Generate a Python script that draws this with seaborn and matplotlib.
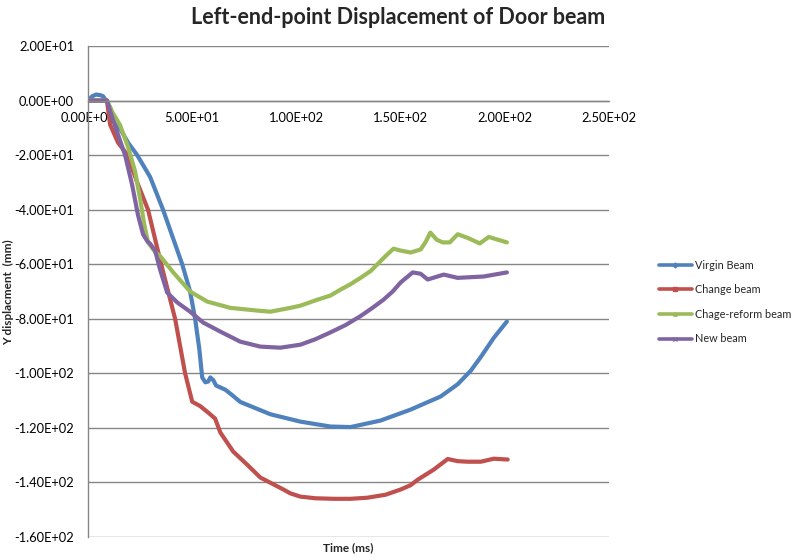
import numpy as np
import pandas as pd
import matplotlib
matplotlib.use("Agg")
import matplotlib.pyplot as plt
import seaborn as sns
from matplotlib.lines import Line2D

# ---- data ----
virgin_t = [0, 1.9, 3.8, 5.8, 7.2, 8.7, 10.6, 13.0, 15.9, 19.2, 23.6, 29.8, 36.0, 45.2, 49.0,
            51.4, 53.4, 54.8, 56.3, 57.7, 58.7, 60.1, 61.5, 65.9, 69.2, 73.1, 77.9, 87.5,
            101.9, 116.3, 126.0, 140.4, 154.8, 169.2, 177.4, 183.7, 188.5, 194.7, 201.0]
virgin_y = [0, 1.5, 2.2, 2.0, 1.6, 0, -2.5, -7.7, -11.0, -15.4, -20.0, -28.0, -40.0, -60.0, -70.0,
            -80.0, -91.0, -101.5, -103.3, -103.0, -101.5, -102.5, -104.5, -106.0, -108.0, -110.5,
            -112.0, -115.0, -117.7, -119.5, -119.7, -117.3, -113.3, -108.5, -104.0, -99.0, -94.0,
            -87.0, -81.0]

change_t = [0, 9.1, 10.6, 14.4, 18.8, 23.6, 28.8, 35.1, 41.8, 46.6, 50.0, 53.8, 57.7, 61.0,
            63.5, 69.7, 76.4, 82.7, 93.8, 97.1, 101.9, 109.1, 117.8, 126.0, 134.0, 142.8, 150.0,
            154.8, 158.2, 165.9, 172.6, 177.4, 182.2, 188.5, 194.7, 201.4]
change_y = [0, 0, -8.8, -15.4, -19.8, -30.0, -40.0, -60.0, -80.0, -100.0, -110.4, -112.0,
            -114.4, -116.6, -121.7, -128.7, -133.5, -138.2, -142.6, -144.0, -145.2, -145.8,
            -146.0, -146.0, -145.6, -144.5, -142.6, -141.0, -139.0, -135.3, -131.4, -132.2,
            -132.4, -132.4, -131.3, -131.6]

reform_t = [0, 9.1, 11.5, 15.4, 19.2, 22.6, 25.0, 26.9, 28.8, 32.2, 34.6, 40.9, 49.0, 57.2,
            68.3, 81.3, 87.5, 97.1, 101.9, 110.1, 116.3, 121.2, 126.0, 130.8, 135.6, 138.9,
            142.8, 146.6, 150.0, 154.8, 159.6, 161.9, 164.3, 167.3, 170.2, 173.6, 177.4, 182.7,
            188.0, 192.3, 201.0]
reform_y = [0, 0, -4.0, -9.0, -17.0, -26.0, -36.0, -45.0, -52.0, -55.5, -57.0, -63.0, -70.0,
            -73.7, -76.0, -77.0, -77.4, -76.0, -75.2, -73.0, -71.5, -69.3, -67.3, -65.0, -62.5,
            -60.0, -57.0, -54.3, -55.0, -55.7, -54.6, -52.0, -48.4, -51.0, -52.0, -52.0, -49.0,
            -50.5, -52.4, -50.0, -52.0]

new_t = [0, 9.1, 11.5, 14.4, 17.8, 21.2, 24.0, 26.4, 28.4, 29.8, 32.2, 34.6, 38.0, 42.8,
         49.0, 55.3, 63.5, 73.1, 82.7, 92.3, 101.9, 109.1, 116.3, 123.6, 130.8, 136.5, 141.8,
         146.2, 150.0, 155.8, 159.6, 163.0, 170.7, 177.4, 189.9, 201.0]
new_y = [0, 0, -6.0, -12.5, -20.0, -31.0, -42.0, -49.0, -51.5, -52.5, -55.0, -62.0, -70.4,
         -74.0, -77.4, -81.4, -84.7, -88.4, -90.2, -90.6, -89.5, -87.5, -85.0, -82.3, -79.0,
         -76.0, -73.0, -70.0, -66.7, -63.0, -63.5, -65.6, -63.8, -65.0, -64.5, -63.0]

series_names = ["Virgin Beam", "Change beam", "Chage-reform beam", "New beam"]
series_colors = ["#4F81BD", "#C0504D", "#9BBB59", "#8064A2"]
series_markers = ["D", "s", "^", "x"]

x_ticks = [0, 50, 100, 150, 200, 250]
x_ticklabels = ["0.00E+00", "5.00E+01", "1.00E+02", "1.50E+02", "2.00E+02", "2.50E+02"]
y_ticks = [20, 0, -20, -40, -60, -80, -100, -120, -140, -160]
y_ticklabels = ["2.00E+01", "0.00E+00", "-2.00E+01", "-4.00E+01", "-6.00E+01", "-8.00E+01",
                "-1.00E+02", "-1.20E+02", "-1.40E+02", "-1.60E+02"]

frames = []
for name, t, y in zip(series_names,
                      [virgin_t, change_t, reform_t, new_t],
                      [virgin_y, change_y, reform_y, new_y]):
    frames.append(pd.DataFrame({"t": t, "y": y, "series": name}))
df = pd.concat(frames, ignore_index=True)

sns.set_style("white")
plt.rcParams["font.family"] = ["Lato", "DejaVu Sans"]

fig = plt.figure(figsize=(7.97, 5.58), dpi=100)
ax = fig.add_axes([88 / 797, 1 - 537 / 558, (609 - 88) / 797, (537 - 46) / 558])

for name, col in zip(series_names, series_colors):
    sub = df[df["series"] == name]
    sns.lineplot(data=sub, x="t", y="y", ax=ax, color=col, linewidth=3.0,
                 sort=False, estimator=None, legend=False)

ax.set_xlim(0, 250)
ax.set_ylim(-160, 20)
ax.set_xticks(x_ticks)
ax.set_xticklabels(x_ticklabels)
ax.set_yticks(y_ticks)
ax.set_yticklabels(y_ticklabels)
ax.set_xlabel("")
ax.set_ylabel("")

grid_col = "#868686"
ax.grid(axis="y", color=grid_col, linewidth=1.0)
ax.grid(axis="x", visible=False)
ax.set_axisbelow(True)
for s in ["top", "right"]:
    ax.spines[s].set_visible(False)
ax.spines["left"].set_color(grid_col)
ax.spines["left"].set_linewidth(1.0)
ax.spines["bottom"].set_position(("data", 0))
ax.spines["bottom"].set_color(grid_col)
ax.spines["bottom"].set_linewidth(1.0)
ax.tick_params(axis="x", length=0, pad=8, labelsize=9.3, colors="black")
ax.tick_params(axis="y", length=0, pad=10, labelsize=9.3, colors="black")

fig.text(0.5, 1 - 17 / 558, "Left-end-point Displacement of Door beam",
         ha="center", va="center", fontsize=15.5, fontweight="bold")
fig.text(348 / 797, 1 - 548 / 558, "Time (ms)", ha="center", va="center",
         fontsize=8.5, fontweight="bold")
fig.text(9 / 797, 1 - 292 / 558, "Y displacment  (mm)", ha="center", va="center",
         rotation=90, fontsize=8.5, fontweight="bold")

handles = [Line2D([0], [0], color=c, linewidth=2.6, marker=m, markersize=2.5,
                  markeredgecolor=c, markerfacecolor=c)
           for c, m in zip(series_colors, series_markers)]
fig.legend(handles, series_names, loc="center left", bbox_to_anchor=(659 / 797, 1 - 302 / 558),
           frameon=False, fontsize=7.8, handlelength=3.0, handletextpad=0.3,
           labelspacing=1.25, borderpad=0, borderaxespad=0)

fig.savefig("out.png", dpi=100)
